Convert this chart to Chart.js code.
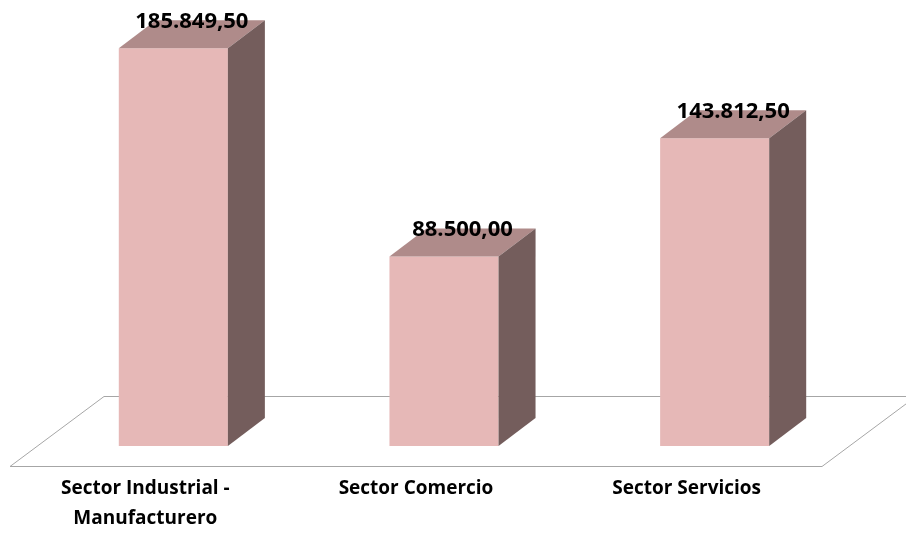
<!DOCTYPE html>
<html lang="es">
<head>
<meta charset="UTF-8">
<title>Sectores</title>
<script src="https://cdn.jsdelivr.net/npm/chart.js"></script>
<style>
  html, body { margin: 0; padding: 0; background: #fff; }
  #wrap { width: 906px; height: 534px; }
</style>
</head>
<body>
<div id="wrap"><canvas id="sectorChart"></canvas></div>
<script>
let sectores = [["Sector Industrial -", "Manufacturero"], "Sector Comercio", "Sector Servicios"];
let montos = [185849.50, 88500.00, 143812.50];
let ejeMin = 0;
let ejeMax = 200000;

// 185849.5 -> "185.849,50"
function formato(v) {
    let partes = v.toFixed(2).split('.');
    let ent = partes[0].replace(/\B(?=(\d{3})+(?!\d))/g, '.');
    return ent + ',' + partes[1];
}

// fake 3D: floor + top/side faces of each bar
const caja3d = {
    id: 'caja3d',
    beforeDatasetsDraw(chart) {
        const ctx = chart.ctx;
        const a = chart.chartArea;
        const base = a.bottom;
        ctx.save();
        ctx.strokeStyle = '#A6A6A6';
        ctx.lineWidth = 1;
        ctx.beginPath();
        ctx.moveTo(a.left - 28, base + 20.5);
        ctx.lineTo(a.right - 28, base + 20.5);
        ctx.lineTo(a.right + 66, base - 49.5);
        ctx.lineTo(a.left + 66, base - 49.5);
        ctx.closePath();
        ctx.stroke();
        ctx.restore();
    },
    afterDatasetsDraw(chart) {
        const ctx = chart.ctx;
        const meta = chart.getDatasetMeta(0);
        const dx = 37, dy = 28;
        ctx.save();
        meta.data.forEach((bar, i) => {
            let l = bar.x - bar.width / 2;
            let r = bar.x + bar.width / 2;
            let t = bar.y;
            let b = bar.base;

            ctx.fillStyle = '#AF8B8A';
            ctx.beginPath();
            ctx.moveTo(l, t);
            ctx.lineTo(l + dx, t - dy);
            ctx.lineTo(r + dx, t - dy);
            ctx.lineTo(r, t);
            ctx.closePath();
            ctx.fill();

            ctx.fillStyle = '#745D5C';
            ctx.beginPath();
            ctx.moveTo(r, t);
            ctx.lineTo(r + dx, t - dy);
            ctx.lineTo(r + dx, b - dy);
            ctx.lineTo(r, b);
            ctx.closePath();
            ctx.fill();

            ctx.fillStyle = '#000';
            ctx.font = 'bold 22px "Open Sans"';
            ctx.textAlign = 'center';
            ctx.textBaseline = 'middle';
            ctx.fillText(formato(montos[i]), bar.x + dx / 2, t - dy + 1);
        });
        ctx.restore();
    }
};

let ctx = document.getElementById('sectorChart').getContext('2d');
let sectorChart = new Chart(ctx, {
    type: 'bar',
    data: {
        labels: sectores,
        datasets: [{
            data: montos,
            backgroundColor: '#E6B8B7',
            borderWidth: 0,
            categoryPercentage: 1,
            barPercentage: 0.403
        }]
    },
    options: {
        responsive: true,
        maintainAspectRatio: false,
        animation: false,
        layout: {
            padding: { top: 18, left: 38, right: 56, bottom: 0 }
        },
        scales: {
            x: {
                grid: { display: false, drawTicks: false },
                border: { display: false },
                ticks: {
                    padding: 28,
                    labelOffset: -28,
                    color: '#000',
                    font: { family: 'Open Sans', size: 19, weight: 'bold', lineHeight: 1.55 }
                },
                afterFit(scale) { scale.height = 88; }
            },
            y: {
                display: false,
                min: ejeMin,
                max: ejeMax
            }
        },
        plugins: {
            legend: { display: false },
            tooltip: { enabled: false }
        }
    },
    plugins: [caja3d]
});
</script>
</body>
</html>
